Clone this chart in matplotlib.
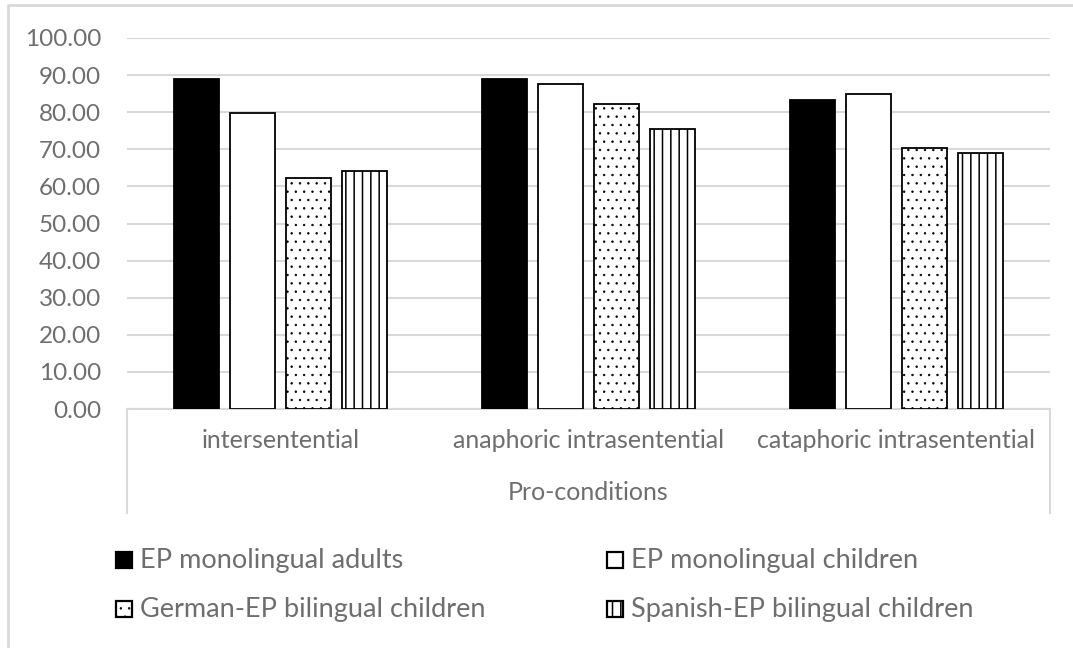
import matplotlib
matplotlib.use("Agg")
import matplotlib.pyplot as plt
from matplotlib.patches import Rectangle
from matplotlib.lines import Line2D
import numpy as np

plt.rcParams['font.family'] = ['Lato', 'DejaVu Sans']
plt.rcParams['hatch.color'] = 'black'

categories = ["intersentential", "anaphoric intrasentential", "cataphoric intrasentential"]
series_names = ["EP monolingual adults", "EP monolingual children",
                "German-EP bilingual children", "Spanish-EP bilingual children"]
adults = [88.9, 88.9, 83.4]
children = [79.8, 87.5, 84.9]
german_ep = [62.2, 82.3, 70.3]
spanish_ep = [64.2, 75.5, 69.0]
y_ticks = [0, 10, 20, 30, 40, 50, 60, 70, 80, 90, 100]
axis_title = "Pro-conditions"

series = [adults, children, german_ep, spanish_ep]
styles = [dict(facecolor='black', hatch=None, hlw=1.0),
          dict(facecolor='white', hatch=None, hlw=1.0),
          dict(facecolor='white', hatch='..', hlw=0.5),
          dict(facecolor='white', hatch='||', hlw=1.1)]

W, H = 1073, 648
fig = plt.figure(figsize=(W / 100, H / 100), dpi=100)
ax = fig.add_axes([127 / W, 1 - 409 / H, (1050 - 127) / W, (409 - 38) / H])

text_color = '#6e6e6e'
grid_color = '#d9d9d9'

x = np.arange(len(categories))
bar_w = 0.146
step = 0.182
for i, (vals, st) in enumerate(zip(series, styles)):
    with plt.rc_context({'hatch.linewidth': st['hlw']}):
        ax.bar(x + (i - 1.5) * step, vals, width=bar_w, color=st['facecolor'],
               edgecolor='black', linewidth=1.3, hatch=st['hatch'], zorder=3)

ax.set_xlim(-0.5, len(categories) - 0.5)
ax.set_ylim(0, 100)
ax.set_yticks(y_ticks)
ax.set_yticklabels([f"{v:.2f}" for v in y_ticks])
ax.tick_params(axis='y', length=0, pad=18.5, labelsize=17.5, labelcolor=text_color)
ax.set_xticks([])
ax.yaxis.grid(True, color=grid_color, linewidth=1.5, zorder=0)
ax.set_axisbelow(True)
for s in ['top', 'right', 'left']:
    ax.spines[s].set_visible(False)
ax.spines['bottom'].set_color(grid_color)
ax.spines['bottom'].set_linewidth(1.5)

# category labels and axis title inside the category box
for xi, cat in zip(x, categories):
    ax.text(xi, -31 / 371, cat, ha='center', va='center', fontsize=18,
            color=text_color, transform=ax.get_xaxis_transform())
ax.text(0.5, -84 / 371, axis_title, ha='center', va='center', fontsize=18,
        color=text_color, transform=ax.transAxes)

# category box side lines
for xf in [127 / W, 1050 / W]:
    fig.add_artist(Line2D([xf, xf], [1 - 409 / H, 1 - 513 / H], color=grid_color,
                          linewidth=1.5, transform=fig.transFigure))

# chart frame
fig.add_artist(Line2D([8 / W, 8 / W, 1.0], [0.0, 1 - 5 / H, 1 - 5 / H],
                      color=grid_color, linewidth=2, transform=fig.transFigure))

# legend: (box left, baseline) in pixels
leg_pos = [(116, 568), (607, 568), (116, 617), (607, 617)]
for (px, py), name, st in zip(leg_pos, series_names, styles):
    size = 16
    with plt.rc_context({'hatch.linewidth': st['hlw']}):
        r = Rectangle((px / W, 1 - py / H), size / W, size / H,
                      facecolor=st['facecolor'], edgecolor='black', linewidth=1.6,
                      hatch=st['hatch'], transform=fig.transFigure)
    fig.add_artist(r)
    fig.text((px + size + 8) / W, 1 - py / H, name, ha='left', va='baseline',
             fontsize=19.5, color=text_color)

fig.savefig("out.png", dpi=100)
